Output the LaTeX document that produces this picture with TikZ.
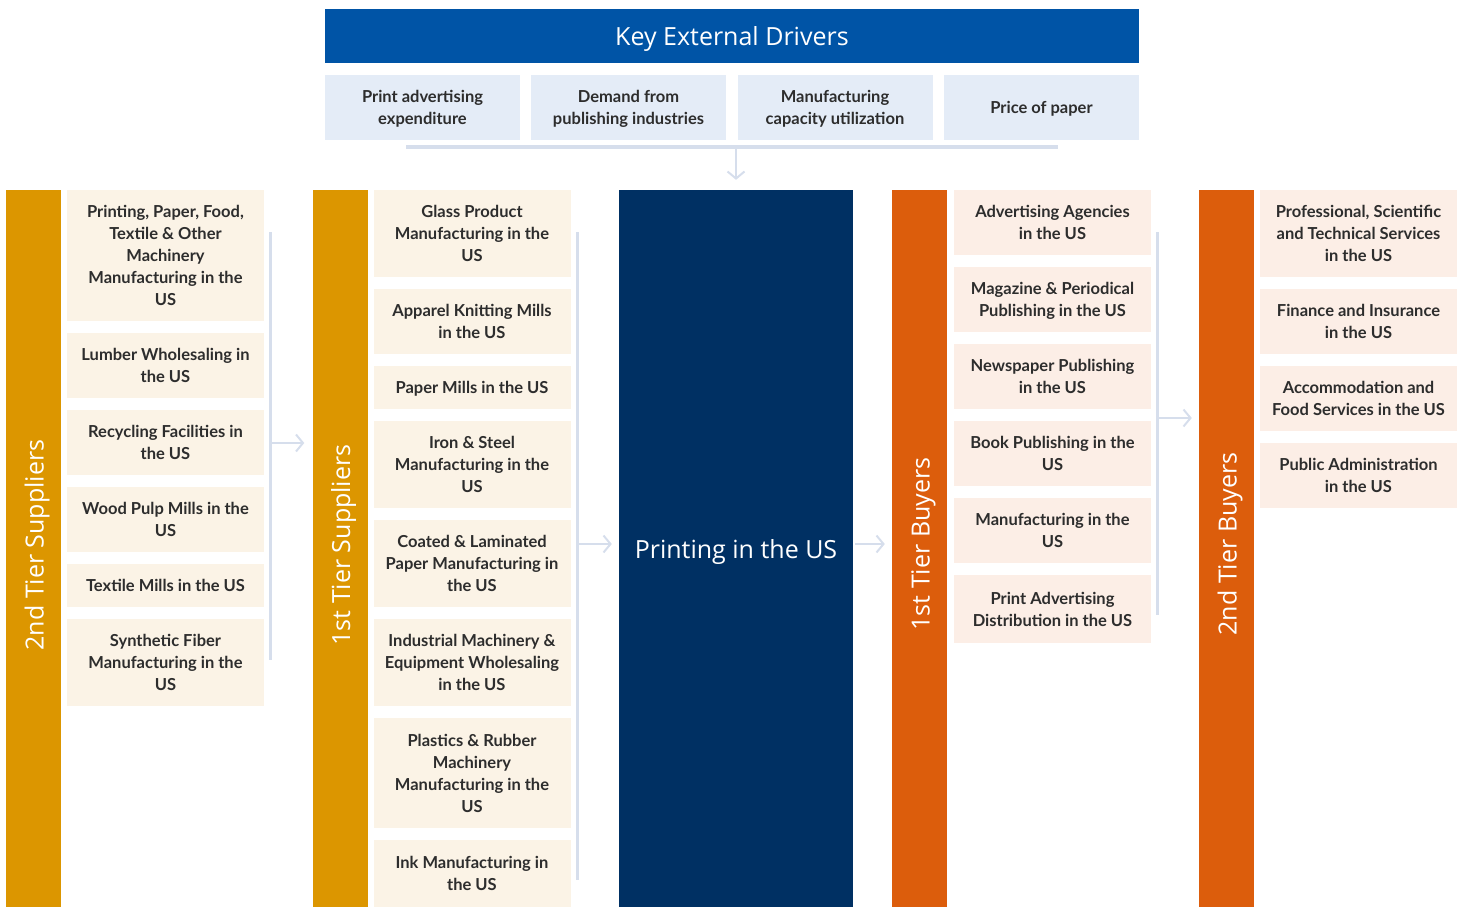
\documentclass[tikz,border=0pt]{standalone}
\usepackage{fontspec}
\setmainfont{Lato}
\newfontfamily\headfont{Open Sans}
\usetikzlibrary{arrows.meta, positioning}

\definecolor{drvblue}{RGB}{0,84,166}
\definecolor{drvfill}{RGB}{228,236,247}
\definecolor{busgray}{RGB}{214,222,236}
\definecolor{supgold}{RGB}{220,150,0}
\definecolor{supfill}{RGB}{251,243,230}
\definecolor{corenavy}{RGB}{0,48,99}
\definecolor{buyorange}{RGB}{220,93,12}
\definecolor{buyfill}{RGB}{252,238,230}
\definecolor{txtgray}{RGB}{45,45,45}

\newcommand{\boxfont}{\bfseries\fontsize{16.5}{22}\selectfont}
\newcommand{\bigfont}{\headfont\fontsize{25}{30}\selectfont}

\begin{document}
\begin{tikzpicture}[x=1pt, y=-1pt,
      head/.style={rectangle, fill=drvblue, text=white, minimum width=814pt, minimum height=54pt, inner sep=0pt, text height=20pt, text depth=0pt, font=\bigfont},
      drv/.style={rectangle, fill=drvfill, text=txtgray, minimum width=195pt, minimum height=65pt, inner sep=0pt, text depth=-8pt, align=center, font=\boxfont},
      sup/.style={rectangle, fill=supfill, text=txtgray, minimum width=197pt, inner sep=0pt, text depth=-8pt, align=center, font=\boxfont},
      buy/.style={rectangle, fill=buyfill, text=txtgray, minimum width=197pt, inner sep=0pt, text depth=-8pt, align=center, font=\boxfont},
      bar/.style={rectangle, minimum width=55pt, minimum height=717pt, inner sep=0pt},
      barlbl/.style={rotate=90, text=white, inner sep=0pt, text height=20pt, text depth=0pt, font=\bigfont},
      core/.style={rectangle, fill=corenavy, text=white, minimum width=234pt, minimum height=717pt, inner sep=0pt, text height=20pt, text depth=0pt, font=\bigfont},
      bus/.style={busgray, line width=3pt},
      arrow/.style={busgray, line width=2pt, -{Straight Barb[length=7pt, width=17pt, line width=2pt]}}
    ]
    \useasboundingbox (0,0) rectangle (1461,907);

    % drivers
    \node[head] (key) at (732,36) {Key External Drivers};
    \node[drv] (d1) at (422.5,107.5) {Print advertising\\expenditure};
    \node[drv] (d2) at (628.5,107.5) {Demand from\\publishing industries};
    \node[drv] (d3) at (835,107.5) {Manufacturing\\capacity utilization};
    \node[drv] (d4) at (1041.5,107.5) {Price of paper};

    % tier bars and core
    \node[bar, fill=supgold] (s2) at (33.5,548.5) {};
    \node[bar, fill=supgold] (s1) at (340,548.5) {};
    \node[core] (core) at (736,548.5) {Printing in the US};
    \node[bar, fill=buyorange] (b1) at (919.5,548.5) {};
    \node[bar, fill=buyorange] (b2) at (1226.5,548.5) {};
    \node[barlbl] (s2t) at (33.5,545) {2nd Tier Suppliers};
    \node[barlbl] (s1t) at (340,545) {1st Tier Suppliers};
    \node[barlbl] (b1t) at (919.5,544) {1st Tier Buyers};
    \node[barlbl] (b2t) at (1226.5,544) {2nd Tier Buyers};

    % 2nd tier suppliers
    \node[sup, minimum height=131pt] (s2a) at (165.5,255.5) {Printing, Paper, Food,\\Textile \& Other\\Machinery\\Manufacturing in the\\US};
    \node[sup, minimum height=65pt] (s2b) at (165.5,365.5) {Lumber Wholesaling in\\the US};
    \node[sup, minimum height=65pt] (s2c) at (165.5,442.5) {Recycling Facilities in\\the US};
    \node[sup, minimum height=65pt] (s2d) at (165.5,519.5) {Wood Pulp Mills in the\\US};
    \node[sup, minimum height=43pt] (s2e) at (165.5,585.5) {Textile Mills in the US};
    \node[sup, minimum height=87pt] (s2f) at (165.5,662.5) {Synthetic Fiber\\Manufacturing in the\\US};

    % 1st tier suppliers
    \node[sup, minimum height=87pt] (s1a) at (472,233.5) {Glass Product\\Manufacturing in the\\US};
    \node[sup, minimum height=65pt] (s1b) at (472,321.5) {Apparel Knitting Mills\\in the US};
    \node[sup, minimum height=43pt] (s1c) at (472,387.5) {Paper Mills in the US};
    \node[sup, minimum height=87pt] (s1d) at (472,464.5) {Iron \& Steel\\Manufacturing in the\\US};
    \node[sup, minimum height=87pt] (s1e) at (472,563.5) {Coated \& Laminated\\Paper Manufacturing in\\the US};
    \node[sup, minimum height=87pt] (s1f) at (472,662.5) {Industrial Machinery \&\\Equipment Wholesaling\\in the US};
    \node[sup, minimum height=110pt] (s1g) at (472,773) {Plastics \& Rubber\\Machinery\\Manufacturing in the\\US};
    \node[sup, minimum height=67pt] (s1h) at (472,873.5) {Ink Manufacturing in\\the US};

    % 1st tier buyers
    \node[buy, minimum height=65pt] (b1a) at (1052.5,222.5) {Advertising Agencies\\in the US};
    \node[buy, minimum height=65pt] (b1b) at (1052.5,299.5) {Magazine \& Periodical\\Publishing in the US};
    \node[buy, minimum height=65pt] (b1c) at (1052.5,376.5) {Newspaper Publishing\\in the US};
    \node[buy, minimum height=65pt] (b1d) at (1052.5,453.5) {Book Publishing in the\\US};
    \node[buy, minimum height=65pt] (b1e) at (1052.5,530.5) {Manufacturing in the\\US};
    \node[buy, minimum height=68pt] (b1f) at (1052.5,609) {Print Advertising\\Distribution in the US};

    % 2nd tier buyers
    \node[buy, minimum height=87pt] (b2a) at (1358.5,233.5) {Professional, Scientific\\and Technical Services\\in the US};
    \node[buy, minimum height=65pt] (b2b) at (1358.5,321.5) {Finance and Insurance\\in the US};
    \node[buy, minimum height=65pt] (b2c) at (1358.5,398.5) {Accommodation and\\Food Services in the US};
    \node[buy, minimum height=65pt] (b2d) at (1358.5,475.5) {Public Administration\\in the US};

    % connectors
    \coordinate (dl) at (406,147);
    \coordinate (dr) at (1058,147);
    \coordinate (dm) at (736,147);
    \draw[bus, line width=4pt] (dl) -- (dr);
    \draw[arrow, shorten >=10pt] (dm) -- (core.north);

    \coordinate (ta) at (270,232);
    \coordinate (ba) at (270,660);
    \coordinate (ma) at (270,443);
    \draw[bus] (ta) -- (ba);
    \draw[arrow, shorten >=8pt] (ma) -- (s1.west |- ma);

    \coordinate (tb) at (577,232);
    \coordinate (bb) at (577,880);
    \coordinate (mb) at (577,544);
    \draw[bus] (tb) -- (bb);
    \draw[arrow, shorten >=7pt] (mb) -- (core.west |- mb);

    \coordinate (mc) at (853,544);
    \draw[arrow, shorten <=2pt, shorten >=7pt] (mc) -- (b1.west |- mc);

    \coordinate (td) at (1157,232);
    \coordinate (bd) at (1157,615);
    \coordinate (md) at (1157,418);
    \draw[bus] (td) -- (bd);
    \draw[arrow, shorten >=7pt] (md) -- (b2.west |- md);
  \end{tikzpicture}
\end{document}
